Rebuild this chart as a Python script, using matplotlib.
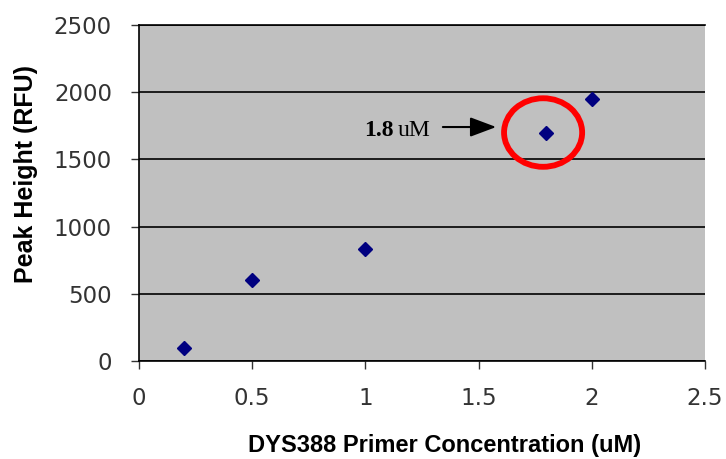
import matplotlib.pyplot as plt
from matplotlib.patches import Ellipse

conc = [0.2, 0.5, 1.0, 1.8, 2.0]
peak = [100, 600, 830, 1700, 1950]
xticks = [0, 0.5, 1, 1.5, 2, 2.5]
xtick_labels = ["0", "0.5", "1", "1.5", "2", "2.5"]
yticks = [0, 500, 1000, 1500, 2000, 2500]

plt.rcParams['font.family'] = ['Liberation Sans', 'DejaVu Sans']

fig = plt.figure(figsize=(7.26, 4.59), dpi=100)
ax = fig.add_axes([0.1915, 0.2135, 0.7795, 0.732])
ax.set_facecolor('#c0c0c0')

ax.plot(conc, peak, linestyle='none', marker='D', markersize=7.5, color='#000080')

ax.set_xlim(0, 2.5)
ax.set_ylim(0, 2500)
ax.set_xticks(xticks)
ax.set_xticklabels(xtick_labels)
ax.set_yticks(yticks)
ax.yaxis.grid(True, color='black', linewidth=1.2)
ax.set_axisbelow(True)
ax.tick_params(direction='out', length=6, width=1, labelsize=16.5, colors='#333333')
ax.tick_params(axis='y', pad=13.5)
ax.tick_params(axis='x', pad=13)
for lab in ax.get_xticklabels() + ax.get_yticklabels():
    lab.set_family('DejaVu Sans')

ax.spines['right'].set_visible(False)
ax.spines['top'].set_linewidth(1.2)
ax.spines['left'].set_linewidth(1.2)
ax.spines['bottom'].set_linewidth(1.2)

ax.set_xlabel('DYS388 Primer Concentration (uM)', fontsize=17, fontweight='bold', labelpad=17)
ax.set_ylabel('Peak Height (RFU)', fontsize=18, fontweight='bold', labelpad=11)
ax.xaxis.label.set_x(0.54)
ax.yaxis.label.set_y(0.557)

# highlight the 1.8 uM point
ax.add_patch(Ellipse((1.785, 1700), 0.345, 510, fill=False, edgecolor='#ff0000', linewidth=4.2))
ax.annotate('', xy=(1.59, 1741), xytext=(1.33, 1741),
            arrowprops=dict(arrowstyle='-|>,head_length=1.6,head_width=0.6', color='black', lw=1.5))
ax.text(0.995, 1715, '1.8', family='Liberation Serif', fontweight='bold', fontsize=17, va='center')
ax.text(1.144, 1715, 'uM', family='Liberation Serif', fontsize=17, va='center')

fig.savefig('out.png', dpi=100)
